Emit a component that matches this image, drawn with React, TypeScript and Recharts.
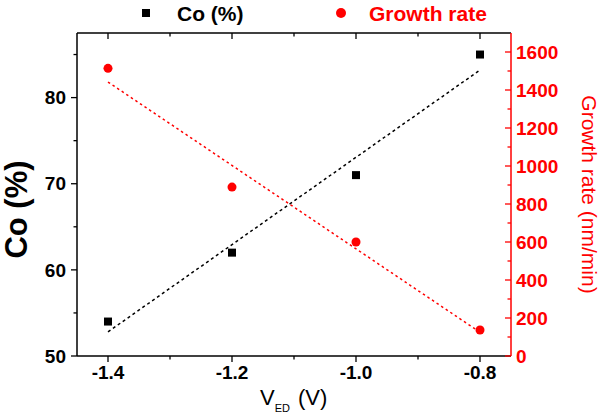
import React from 'react';
import { ComposedChart, XAxis, YAxis, Scatter, Line, Legend } from 'recharts';

// ---- data ----
const voltages = [-1.4, -1.2, -1.0, -0.8];
const coPercent = [54.0, 62.0, 71.0, 85.0];
const growthRate = [1514, 889, 600, 137];

// dashed linear trend lines (end points)
const fitVoltages = [-1.4, -0.8];
const coFit = [52.8, 83.2];
const growthFit = [1442, 125];

// ticks
const xTicks = [-1.4, -1.3, -1.2, -1.1, -1.0, -0.9, -0.8];
const xMajor = [-1.4, -1.2, -1.0, -0.8];
const leftTicks = [50, 55, 60, 65, 70, 75, 80, 85];
const leftMajor = [50, 60, 70, 80];
const rightTicks = [0, 100, 200, 300, 400, 500, 600, 700, 800, 900, 1000, 1100, 1200, 1300, 1400, 1500, 1600];
const rightMajor = [0, 200, 400, 600, 800, 1000, 1200, 1400, 1600];

const legendLabels = ['Co (%)', 'Growth rate'];

const xDomain = [-1.45, -0.75];
const leftDomain = [50, 87.5];
const rightDomain = [0, 1700];

const coData = voltages.map((x, i) => ({ x, y: coPercent[i] }));
const growthData = voltages.map((x, i) => ({ x, y: growthRate[i] }));
const coFitData = fitVoltages.map((x, i) => ({ x, y: coFit[i] }));
const growthFitData = fitVoltages.map((x, i) => ({ x, y: growthFit[i] }));
// top frame of the plot box and its inward ticks, placed on the data scales
const topFrameData = xDomain.map((x) => ({ x, y: leftDomain[1] }));
const topTickData = xTicks.map((x) => ({ x, y: leftDomain[1] }));

const FONT = "Arial, 'Liberation Sans', sans-serif";
const RED = '#ff0000';

const isMajor = (v: number, list: number[]) => list.some((m) => Math.abs(m - v) < 1e-6);

const BottomTick = (props: any) => {
  const { x, y, payload } = props;
  const major = isMajor(payload.value, xMajor);
  return (
    <g>
      <line x1={x} x2={x} y1={y} y2={y + (major ? 6 : 3.5)} stroke="#000" strokeWidth={1.3} />
      {major && (
        <text x={x} y={y + 16} dy="0.35em" textAnchor="middle" fontSize={19} fontWeight="bold" fontFamily={FONT} fill="#000">
          {Number(payload.value).toFixed(1)}
        </text>
      )}
    </g>
  );
};

const LeftTick = (props: any) => {
  const { x, y, payload } = props;
  const major = isMajor(payload.value, leftMajor);
  return (
    <g>
      <line x1={x - (major ? 6 : 3.5)} x2={x} y1={y} y2={y} stroke="#000" strokeWidth={1.3} />
      {major && (
        <text x={x - 11} y={y} dy="0.35em" textAnchor="end" fontSize={19} fontWeight="bold" fontFamily={FONT} fill="#000">
          {payload.value}
        </text>
      )}
    </g>
  );
};

const RightTick = (props: any) => {
  const { x, y, payload } = props;
  const major = isMajor(payload.value, rightMajor);
  return (
    <g>
      <line x1={x - (major ? 6 : 3.5)} x2={x} y1={y} y2={y} stroke={RED} strokeWidth={1.3} />
      {major && (
        <text x={x + 5} y={y} dy="0.35em" textAnchor="start" fontSize={19} fontWeight="bold" fontFamily={FONT} fill={RED}>
          {payload.value}
        </text>
      )}
    </g>
  );
};

const TopTickShape = (props: any) => {
  const { cx, cy, payload } = props;
  const major = isMajor(payload.x, xMajor);
  return <line x1={cx} x2={cx} y1={cy} y2={cy + (major ? 6 : 3.5)} stroke="#000" strokeWidth={1.3} />;
};

const LegendContent = () => (
  <div style={{ position: 'relative', width: 600, height: 33, fontFamily: FONT }}>
    <div style={{ position: 'absolute', left: 142, top: 9, width: 8, height: 8, background: '#000' }} />
    <div style={{ position: 'absolute', left: 177, top: 1, fontSize: 21, fontWeight: 'bold', color: '#000', lineHeight: '26px', whiteSpace: 'nowrap' }}>
      {legendLabels[0]}
    </div>
    <div style={{ position: 'absolute', left: 336, top: 8, width: 10, height: 10, borderRadius: 5, background: RED }} />
    <div style={{ position: 'absolute', left: 369, top: 1, fontSize: 21, fontWeight: 'bold', color: RED, lineHeight: '26px', whiteSpace: 'nowrap' }}>
      {legendLabels[1]}
    </div>
  </div>
);

const XLabel = (props: any) => {
  const vb = props.viewBox;
  const cx = vb.x + vb.width / 2;
  return (
    <text x={cx - 34} y={vb.y + 49} fontFamily={FONT} fill="#000" fontSize={22}>
      <tspan>V</tspan>
      <tspan fontSize={11} dy={7}>ED</tspan>
      <tspan dy={-7} dx={8}>(V)</tspan>
    </text>
  );
};

const LeftLabel = (props: any) => {
  const vb = props.viewBox;
  const cx = vb.x + 16;
  const cy = vb.y + vb.height / 2 + 15;
  return (
    <text x={cx} y={cy} dy="0.35em" textAnchor="middle" transform={`rotate(-90 ${cx} ${cy})`} fontFamily={FONT} fontSize={31} fontWeight="bold" fill="#000">
      Co (%)
    </text>
  );
};

const RightLabel = (props: any) => {
  const vb = props.viewBox;
  const cx = vb.x + 78;
  const cy = vb.y + vb.height / 2;
  return (
    <text x={cx} y={cy} dy="0.35em" textAnchor="middle" transform={`rotate(90 ${cx} ${cy})`} fontFamily={FONT} fontSize={21} fill={RED}>
      Growth rate (nm/min)
    </text>
  );
};

export default function App() {
  return (
    <div style={{ position: 'absolute', left: 0, top: 0, width: 600, height: 417, background: '#fff' }}>
      <ComposedChart width={600} height={417} margin={{ top: 0, right: 0, bottom: 0, left: 0 }}>
        <Legend verticalAlign="top" align="left" wrapperStyle={{ top: 0, left: 0 }} content={<LegendContent />} />
        <XAxis
          xAxisId="bottom"
          dataKey="x"
          type="number"
          orientation="bottom"
          domain={xDomain}
          ticks={xTicks}
          interval={0}
          height={61}
          tickSize={0}
          tickMargin={0}
          tickLine={false}
          tick={<BottomTick />}
          axisLine={{ stroke: '#000', strokeWidth: 1.5 }}
          label={<XLabel />}
        />
        <YAxis
          yAxisId="left"
          dataKey="y"
          type="number"
          orientation="left"
          domain={leftDomain}
          ticks={leftTicks}
          interval={0}
          width={77}
          tickSize={0}
          tickMargin={0}
          tickLine={false}
          tick={<LeftTick />}
          axisLine={{ stroke: '#000', strokeWidth: 1.5 }}
          label={<LeftLabel />}
        />
        <YAxis
          yAxisId="right"
          dataKey="y"
          type="number"
          orientation="right"
          domain={rightDomain}
          ticks={rightTicks}
          interval={0}
          width={89}
          tickSize={0}
          tickMargin={0}
          tickLine={false}
          tick={<RightTick />}
          axisLine={{ stroke: RED, strokeWidth: 1.5 }}
          label={<RightLabel />}
        />
        <Line
          xAxisId="bottom"
          yAxisId="left"
          data={topFrameData}
          dataKey="y"
          type="linear"
          stroke="#000"
          strokeWidth={1.5}
          dot={false}
          activeDot={false}
          isAnimationActive={false}
          legendType="none"
        />
        <Scatter
          xAxisId="bottom"
          yAxisId="left"
          data={topTickData}
          dataKey="y"
          shape={<TopTickShape />}
          isAnimationActive={false}
          legendType="none"
        />
        <Line
          xAxisId="bottom"
          yAxisId="left"
          data={coFitData}
          dataKey="y"
          type="linear"
          stroke="#000"
          strokeWidth={1.5}
          strokeDasharray="3 3"
          dot={false}
          activeDot={false}
          isAnimationActive={false}
          legendType="none"
        />
        <Line
          xAxisId="bottom"
          yAxisId="right"
          data={growthFitData}
          dataKey="y"
          type="linear"
          stroke={RED}
          strokeWidth={1.5}
          strokeDasharray="2.5 3"
          dot={false}
          activeDot={false}
          isAnimationActive={false}
          legendType="none"
        />
        <Scatter xAxisId="bottom" yAxisId="left" name="Co (%)" data={coData} dataKey="y" fill="#000" shape="square" isAnimationActive={false} />
        <Scatter xAxisId="bottom" yAxisId="right" name="Growth rate" data={growthData} dataKey="y" fill={RED} shape="circle" isAnimationActive={false} />
      </ComposedChart>
    </div>
  );
}
